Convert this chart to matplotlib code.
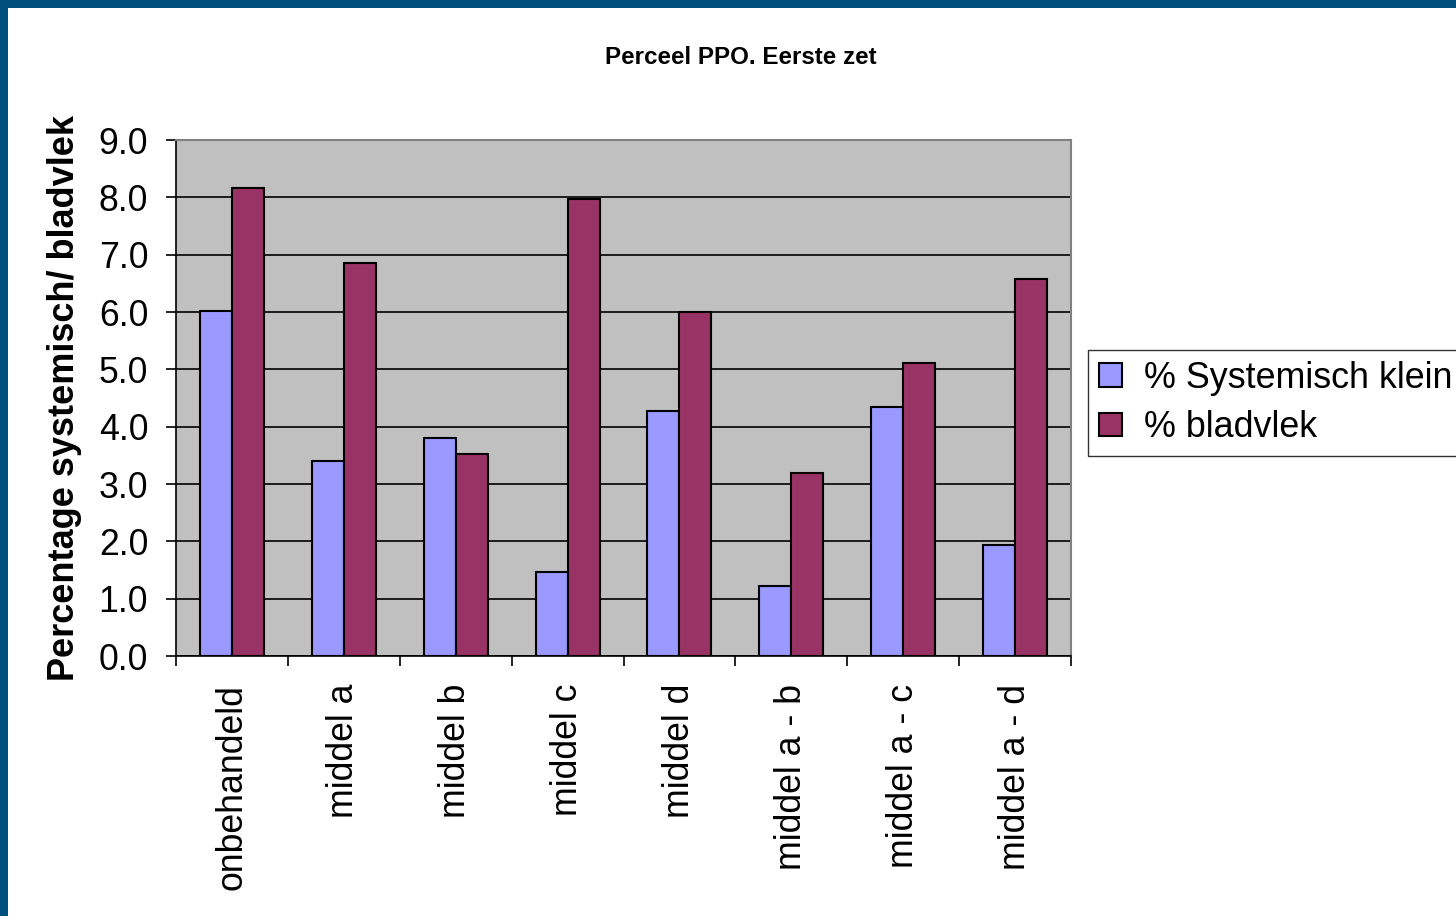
import matplotlib
matplotlib.use("Agg")
import matplotlib.pyplot as plt
from matplotlib.patches import Rectangle
import numpy as np

categories = ["onbehandeld", "middel a", "middel b", "middel c", "middel d",
              "middel a - b", "middel a - c", "middel a - d"]
systemisch = [6.02, 3.40, 3.80, 1.47, 4.27, 1.22, 4.34, 1.94]
bladvlek = [8.16, 6.86, 3.52, 7.97, 6.00, 3.19, 5.11, 6.58]
series_names = ["% Systemisch klein", "% bladvlek"]
title = "Perceel PPO. Eerste zet"
ylabel = "Percentage systemisch/ bladvlek"

plt.rcParams['font.family'] = ['Liberation Sans', 'DejaVu Sans']

W, H = 1456, 916
fig = plt.figure(figsize=(W / 100, H / 100), dpi=100)
fig.patch.set_facecolor('white')

# dark blue frame on top and left
border = '#004E7C'
fig.patches.append(Rectangle((0, 1 - 8 / H), 1, 8 / H, transform=fig.transFigure,
                             facecolor=border, edgecolor='none', zorder=0))
fig.patches.append(Rectangle((0, 0), 8 / W, 1, transform=fig.transFigure,
                             facecolor=border, edgecolor='none', zorder=0))

left, right, top, bottom = 176, 1071, 140, 656
ax = fig.add_axes([left / W, 1 - bottom / H, (right - left) / W, (bottom - top) / H])
ax.set_facecolor('#C0C0C0')

x = np.arange(len(categories))
bw = 0.2857
ax.bar(x - bw / 2, systemisch, width=bw, color='#9999FF', edgecolor='black',
       linewidth=1.5, label=series_names[0], zorder=3)
ax.bar(x + bw / 2, bladvlek, width=bw, color='#993366', edgecolor='black',
       linewidth=1.5, label=series_names[1], zorder=3)

ax.set_xlim(-0.5, len(categories) - 0.5)
ax.set_ylim(0, 9)
ax.set_yticks(np.arange(0, 9.1, 1.0))
ax.set_yticklabels([f"{v:.1f}" for v in np.arange(0, 9.1, 1.0)], fontsize=25.7)
ax.yaxis.grid(True, color='black', linewidth=1.2, zorder=1)
ax.set_axisbelow(True)

# x ticks at category boundaries, labels at centers
ax.set_xticks(np.arange(-0.5, len(categories), 1.0))
ax.set_xticklabels([])
ax.set_xticks(x, minor=True)
ax.set_xticklabels(categories, minor=True, rotation=90, fontsize=25.7, va='top')
ax.tick_params(axis='x', which='major', direction='out', length=7, width=1.2, color='black')
ax.tick_params(axis='x', which='minor', length=0, pad=20)
ax.tick_params(axis='y', direction='out', length=7, width=1.2, color='black', pad=13)

for s in ['left', 'bottom']:
    ax.spines[s].set_color('black')
    ax.spines[s].set_linewidth(1.2)
for s in ['top', 'right']:
    ax.spines[s].set_color('#808080')
    ax.spines[s].set_linewidth(1.5)

ax.set_ylabel(ylabel, fontsize=26, fontweight='bold')
ax.yaxis.set_label_coords((82 - left) / (right - left), 0.5)

fig.text(741 / W, 1 - 58 / H, title, fontsize=17.4, fontweight='bold',
         ha='center', va='center')

leg = ax.legend(loc='upper left', bbox_to_anchor=(1088 / W, 1 - 350 / H),
                bbox_transform=fig.transFigure, fontsize=25.8, frameon=True,
                fancybox=False, edgecolor='black', handlelength=0.65,
                handleheight=0.65, handletextpad=0.6, labelspacing=0.4,
                borderpad=0.3, borderaxespad=0)
leg.get_frame().set_linewidth(1.0)

fig.savefig('out.png', dpi=100, facecolor='white')
